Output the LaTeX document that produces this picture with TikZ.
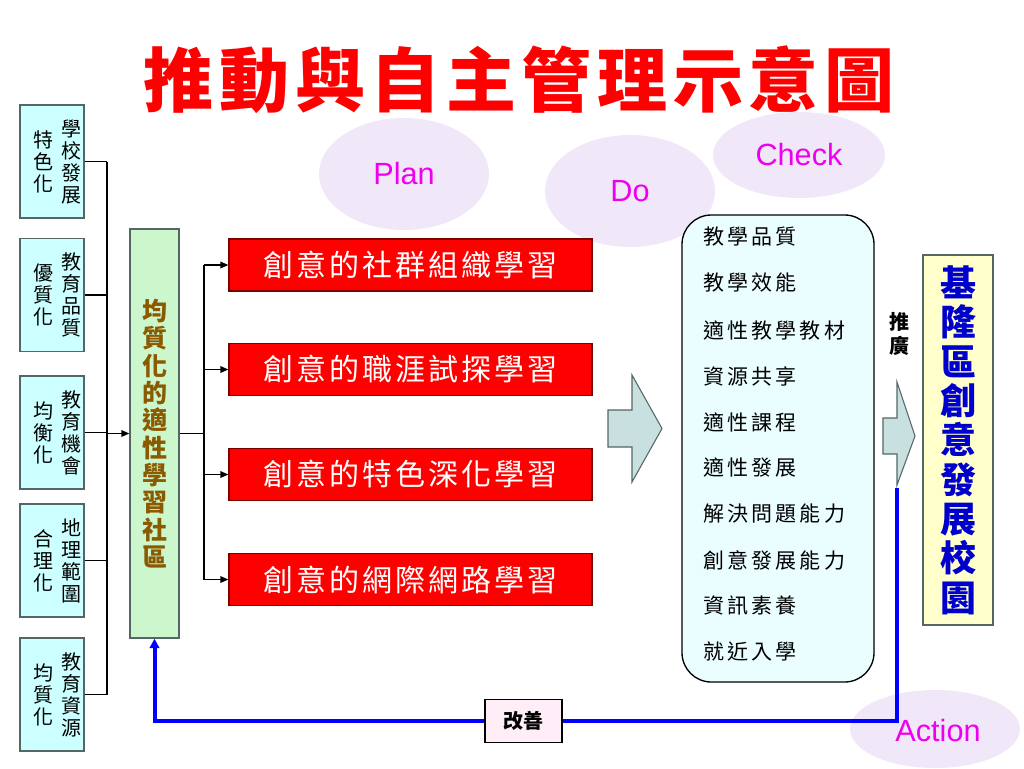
\documentclass[tikz,border=0pt]{standalone}
\usepackage{fontspec}
\setmainfont{Liberation Sans}
\newfontfamily\cjk{Noto Sans CJK TC}
\newfontfamily\cjksp[LetterSpace=15]{Noto Sans CJK TC}
\newfontfamily\cjkred[LetterSpace=10]{Noto Sans CJK TC}
\newfontfamily\cjktitle[LetterSpace=8]{Noto Sans CJK TC}
\usetikzlibrary{shapes.geometric,arrows.meta}
\newcommand\fsz[2]{\fontsize{#1}{#2}\selectfont}
\definecolor{cyanbox}{HTML}{CCFFFF}
\definecolor{greenbox}{HTML}{CCF7CC}
\definecolor{browntxt}{HTML}{8B5A00}
\definecolor{blockfill}{HTML}{C8E0E0}
\definecolor{roundfill}{HTML}{EAFEFF}
\definecolor{yellowbox}{HTML}{FFFFCC}
\definecolor{bluetxt}{HTML}{0000CC}
\definecolor{blueline}{HTML}{0000FF}
\definecolor{pinkbox}{HTML}{FFEEF8}
\definecolor{ellfill}{HTML}{F0E8F8}
\definecolor{magtxt}{HTML}{EE00EE}
\definecolor{bordergray}{HTML}{556666}
\definecolor{redbox}{HTML}{FF0000}
\definecolor{redborder}{HTML}{7A0000}
\tikzset{
  leftbox/.style={draw=bordergray, line width=1pt, fill=cyanbox, minimum width=48pt, minimum height=84.75pt, inner sep=0pt},
  coltext/.style={align=center, inner sep=0pt, font=\cjk\fsz{15pt}{16.5pt}},
  redstep/.style={draw=redborder, line width=1pt, fill=redbox, minimum width=272.25pt, minimum height=39pt, inner sep=0pt, text=white, font=\cjkred\fsz{22.5pt}{25pt}},
  ellnode/.style={ellipse, fill=ellfill, inner sep=0pt, text=magtxt, font=\fsz{23pt}{26pt}},
  conn/.style={line width=1pt, black},
  arr/.style={conn, -{Triangle[length=6pt,width=5pt]}},
  bluel/.style={line width=3pt, blueline},
  blockarrow/.style={draw=bordergray, line width=0.8pt, fill=blockfill},
  listtext/.style={anchor=west, inner sep=0pt, font=\cjksp\fsz{15.75pt}{18pt}}
}
\begin{document}
\begin{tikzpicture}[x=0.75pt,y=-0.75pt]
\useasboundingbox (0,0) rectangle (1024,768);
\fill[white] (0,0) rectangle (1024,768);

% title
\node[text=red, font=\cjktitle\bfseries\fsz{52.5pt}{56pt}, inner sep=0pt] (title) at (519,80) {推動與自主管理示意圖};

% PDCA ellipses
\node[ellnode, minimum width=127.5pt, minimum height=84pt] (plan) at (404,174) {Plan};
\node[ellnode, minimum width=127.5pt, minimum height=84pt] (do) at (630,191) {Do};
\node[ellnode, minimum width=129pt, minimum height=64.5pt] (check) at (799,155) {Check};
\node[ellnode, minimum width=127.5pt, minimum height=58.5pt] (action) at (935,729) {};

% left boxes
\node[leftbox] (b1) at (52,161.5) {};
\node[leftbox] (b2) at (52,295) {};
\node[leftbox] (b3) at (52,432.5) {};
\node[leftbox] (b4) at (52,560.5) {};
\node[leftbox] (b5) at (52,694.5) {};
\node[coltext] (b1r) at ([xshift=14.25pt]b1.center) {學\\校\\發\\展};
\node[coltext] (b1l) at ([xshift=-6.75pt]b1.center) {特\\色\\化};
\node[coltext] (b2r) at ([xshift=14.25pt]b2.center) {教\\育\\品\\質};
\node[coltext] (b2l) at ([xshift=-6.75pt]b2.center) {優\\質\\化};
\node[coltext] (b3r) at ([xshift=14.25pt]b3.center) {教\\育\\機\\會};
\node[coltext] (b3l) at ([xshift=-6.75pt]b3.center) {均\\衡\\化};
\node[coltext] (b4r) at ([xshift=14.25pt]b4.center) {地\\理\\範\\圍};
\node[coltext] (b4l) at ([xshift=-6.75pt]b4.center) {合\\理\\化};
\node[coltext] (b5r) at ([xshift=14.25pt]b5.center) {教\\育\\資\\源};
\node[coltext] (b5l) at ([xshift=-6.75pt]b5.center) {均\\質\\化};

% green box
\node[draw=bordergray, line width=1pt, fill=greenbox, minimum width=36.75pt, minimum height=306.75pt, inner sep=0pt,
      align=center, text=browntxt, font=\cjk\bfseries\fsz{18.75pt}{20.5pt}] (g) at (154.5,433.5)
      {均\\質\\化\\的\\適\\性\\學\\習\\社\\區};

% left bus
\coordinate (busl) at (107,0);
\foreach \i in {1,...,5} { \draw[conn] (b\i.east) -- (b\i.east -| busl); }
\draw[conn] (b1.east -| busl) -- (b5.east -| busl);
\draw[arr] (g.west -| busl) -- (g.west);

% red boxes
\node[redstep] (r1) at (410.5,265) {創意的社群組織學習};
\node[redstep] (r2) at (410.5,369.5) {創意的職涯試探學習};
\node[redstep] (r3) at (410.5,474.5) {創意的特色深化學習};
\node[redstep] (r4) at (410.5,579.5) {創意的網際網路學習};

% right bus
\coordinate (busr) at (204,0);
\draw[conn] (g.east) -- (g.east -| busr);
\draw[conn] (r1.west -| busr) -- (r4.west -| busr);
\foreach \i in {1,...,4} { \draw[arr] (r\i.west -| busr) -- (r\i.west); }

% big block arrow
\draw[blockarrow] (608,410) -- (632,410) -- (632,375) -- (662,428.5) -- (632,482) -- (632,447) -- (608,447) -- cycle;

% rounded list box
\node[draw=black, line width=1pt, fill=roundfill, rounded corners=22pt, minimum width=144pt, minimum height=350.25pt, inner sep=0pt] (list) at (778,448.5) {};
\node[listtext] (l1) at (703,237) {教學品質};
\node[listtext] (l2) at (703,283) {教學效能};
\node[listtext] (l3) at (703,330) {適性教學教材};
\node[listtext] (l4) at (703,376) {資源共享};
\node[listtext] (l5) at (703,422) {適性課程};
\node[listtext] (l6) at (703,467) {適性發展};
\node[listtext] (l7) at (703,514) {解決問題能力};
\node[listtext] (l8) at (703,560) {創意發展能力};
\node[listtext] (l9) at (703,606) {資訊素養};
\node[listtext] (l10) at (703,652) {就近入學};

% small block arrow
\draw[blockarrow] (883,418) -- (897,418) -- (897,382) -- (915,436) -- (897,485) -- (897,454) -- (883,454) -- cycle;
\node[align=center, inner sep=0pt, font=\cjk\bfseries\fsz{15pt}{18pt}] (tuiguang) at (899,334) {推\\廣};

% yellow box
\node[draw=bordergray, line width=1pt, fill=yellowbox, minimum width=52.5pt, minimum height=277.5pt, inner sep=0pt,
      align=center, text=bluetxt, font=\cjk\bfseries\fsz{27pt}{29.5pt}] (y) at (958,440)
      {基\\隆\\區\\創\\意\\發\\展\\校\\園};

% feedback loop
\coordinate (sa) at (897,488);
\node[draw=black, line width=1pt, fill=pinkbox, minimum width=57.75pt, minimum height=32.25pt, inner sep=0pt,
      font=\cjk\bfseries\fsz{15pt}{18pt}] (imp) at (523.5,721) {改善};
\draw[bluel] (sa) |- (imp.east);
\draw[bluel, -{Triangle[length=7pt,width=7pt]}] (imp.west) -| (g.south);
\node[text=magtxt, font=\fsz{23pt}{26pt}, inner sep=0pt] (actiontxt) at (938,731) {Action};
\end{tikzpicture}
\end{document}
